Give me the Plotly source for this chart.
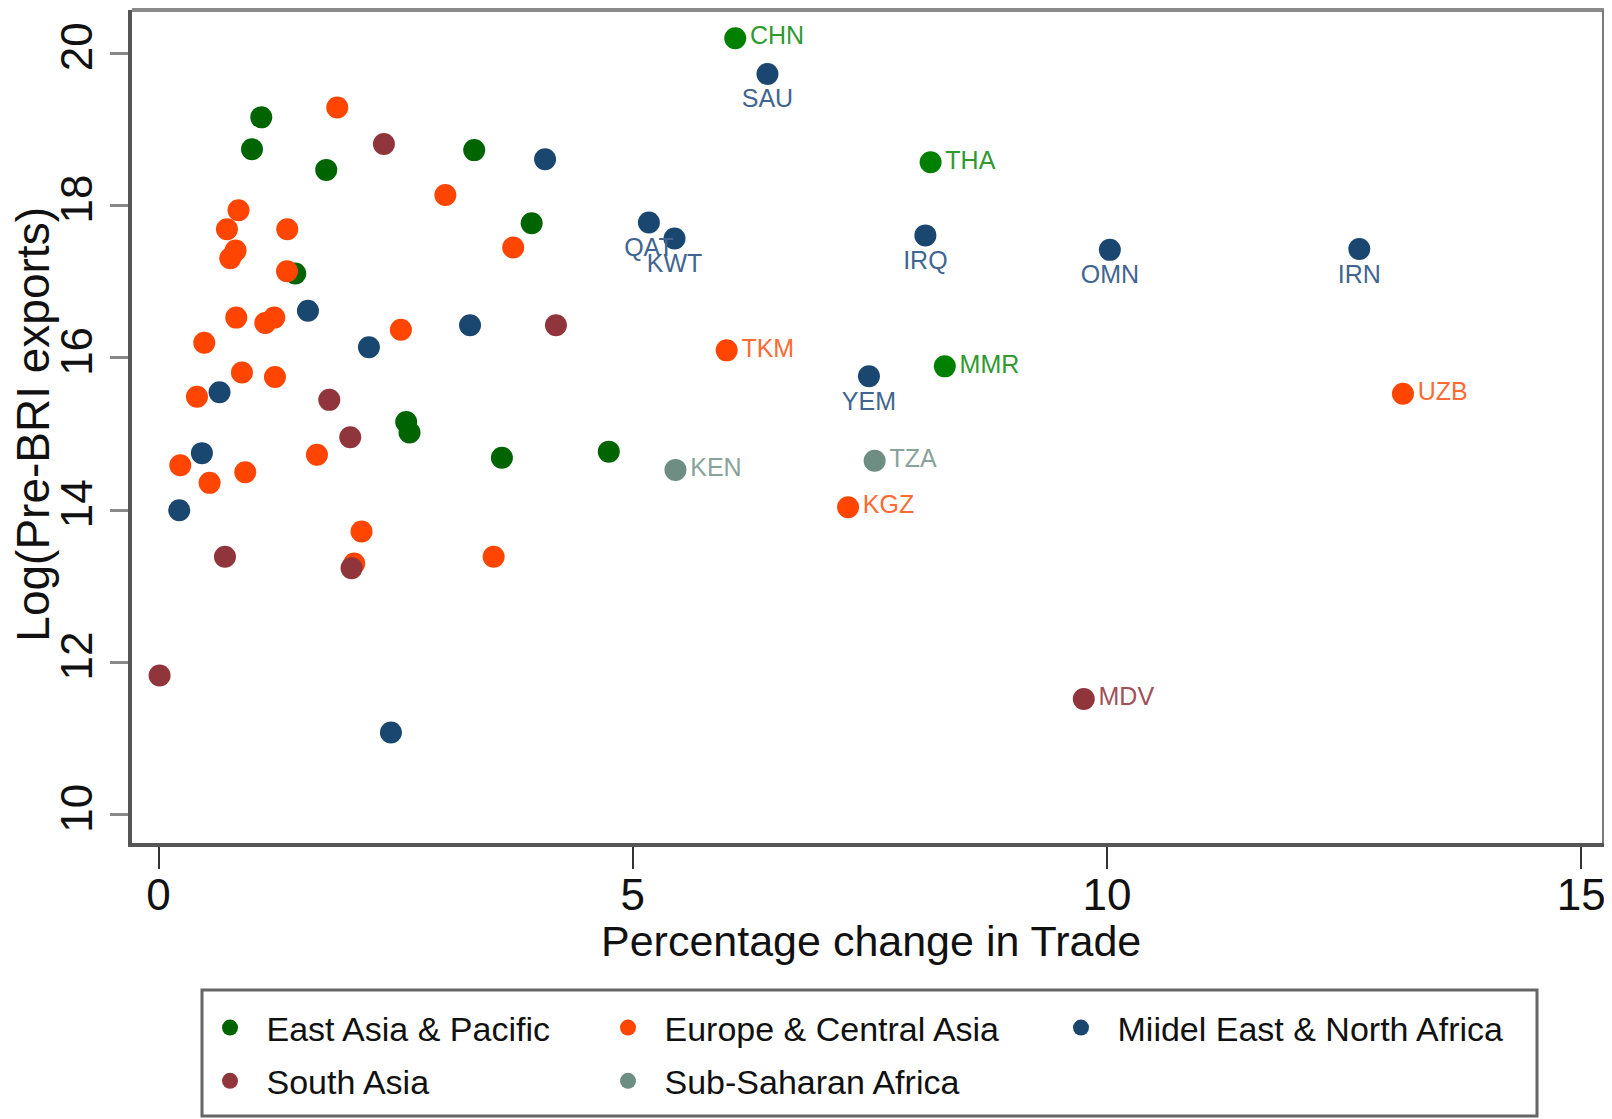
import plotly.graph_objects as go

# ---------------- data ----------------
eap_x = [1.083, 0.985, 1.768, 3.328, 3.934, 1.441, 2.611, 2.646, 3.62, 4.747, 6.08, 8.14, 8.29]
eap_y = [19.16, 18.74, 18.47, 18.73, 17.77, 17.11, 15.16, 15.02, 14.69, 14.77, 20.20, 18.57, 15.89]
eap_lab = ["", "", "", "", "", "", "", "", "", "", "CHN", "THA", "MMR"]

eca_x = [1.884, 3.024, 0.843, 0.721, 1.357, 0.812, 0.756, 3.739, 1.354, 0.482, 0.819, 1.125, 1.220,
         2.555, 0.405, 0.879, 1.227, 0.229, 0.538, 0.914, 1.67, 2.14, 2.063, 3.533, 5.99, 7.27, 13.12]
eca_y = [19.29, 18.14, 17.94, 17.69, 17.69, 17.41, 17.31, 17.45, 17.14, 16.20, 16.53, 16.46, 16.53,
         16.37, 15.49, 15.81, 15.75, 14.59, 14.36, 14.50, 14.73, 13.72, 13.30, 13.39, 16.10, 14.04, 15.53]
eca_lab = [""] * 24 + ["TKM", "KGZ", "UZB"]

mena_x = [4.075, 1.575, 3.284, 2.218, 0.643, 0.457, 0.218, 2.45, 6.42, 5.17, 5.44, 8.085, 10.03, 12.66, 7.49]
mena_y = [18.61, 16.62, 16.43, 16.14, 15.55, 14.75, 14.0, 11.08, 19.73, 17.78, 17.57, 17.61, 17.42, 17.43, 15.76]
mena_lab = [""] * 8 + ["SAU", "QAT", "KWT", "IRQ", "OMN", "IRN", "YEM"]

sa_x = [2.376, 4.19, 1.80, 2.021, 0.70, 2.035, 0.011, 9.755]
sa_y = [18.81, 16.43, 15.45, 14.96, 13.39, 13.24, 11.83, 11.52]
sa_lab = [""] * 7 + ["MDV"]

ssa_x = [5.45, 7.55]
ssa_y = [14.53, 14.65]
ssa_lab = ["KEN", "TZA"]

region_names = ["East Asia & Pacific", "Europe & Central Asia", "Miidel East & North Africa",
                "South Asia", "Sub-Saharan Africa"]

x_ticks = [0, 5, 10, 15]
y_ticks = [10, 12, 14, 16, 18, 20]

x_title = "Percentage change in Trade"
y_title = "Log(Pre-BRI exports)"

# ---------------- style ----------------
FONT = "Liberation Sans, Arial, sans-serif"
colors = ["#006400", "#ff4500", "#1a476f", "#90353b", "#6e8e84"]
label_colors = ["#2f9a2f", "#ff6a33", "#3f6590", "#a0505a", "#88a39b"]
label_pos = ["middle right", "middle right", "bottom center", "middle right", "middle right"]
legend_ids = ["legend", "legend2", "legend3", "legend", "legend2"]

groups = [(eap_x, eap_y, eap_lab), (eca_x, eca_y, eca_lab), (mena_x, mena_y, mena_lab),
          (sa_x, sa_y, sa_lab), (ssa_x, ssa_y, ssa_lab)]

fig = go.Figure()
for i, (xs, ys, labs) in enumerate(groups):
    mcol = [colors[i]] * len(xs)
    if i == 0:
        mcol = ["#008000" if l else colors[i] for l in labs]
    fig.add_trace(go.Scatter(
        x=xs, y=ys, mode="markers+text", name=region_names[i],
        text=labs, textposition=label_pos[i],
        textfont=dict(family=FONT, size=25, color=label_colors[i]),
        marker=dict(size=22, color=mcol, line=dict(width=0)),
        legend=legend_ids[i], legendgroup=region_names[i],
        cliponaxis=False,
    ))

# page has an 8px body margin: plot area targeted at page px x 132..1604, y 10..843
fig.update_layout(
    width=1612, height=1119,
    paper_bgcolor="white", plot_bgcolor="white",
    margin=dict(l=124, r=16, t=2, b=284, autoexpand=False),
    font=dict(family=FONT, color="#111111"),
    showlegend=True,
)

fig.update_xaxes(
    range=[-0.28, 15.24], tickvals=x_ticks, ticktext=[str(v) for v in x_ticks],
    showgrid=False, zeroline=False,
    showline=True, linecolor="#555555", linewidth=4,
    ticks="outside", ticklen=22, tickwidth=2, tickcolor="#333333",
    tickfont=dict(family=FONT, size=44, color="#111111"),
    ticklabelstandoff=-12,
    automargin=False,
)
fig.update_yaxes(
    range=[9.63, 20.57], tickvals=y_ticks, ticktext=[str(v) for v in y_ticks],
    showgrid=False, zeroline=False,
    showline=True, linecolor="#555555", linewidth=4,
    ticks="outside", ticklen=18, tickwidth=3, tickcolor="#888888",
    tickangle=-90,
    tickfont=dict(family=FONT, size=44, color="#111111"),
    automargin=False,
)

# lighter top / right frame lines
fig.add_shape(type="line", xref="paper", yref="paper", x0=0, x1=1, y0=1, y1=1,
              line=dict(color="#8a8a8a", width=4))
fig.add_shape(type="line", xref="paper", yref="paper", x0=1, x1=1, y0=0, y1=1,
              line=dict(color="#7a7a7a", width=4))

fig.add_annotation(text=x_title, xref="paper", yref="paper", x=0.502, y=-0.1176,
                   xanchor="center", yanchor="middle", showarrow=False,
                   font=dict(family=FONT, size=43, color="#111111"))
fig.add_annotation(text=y_title, xref="paper", yref="paper", x=-0.0675, y=0.503,
                   xanchor="center", yanchor="middle", showarrow=False, textangle=-90,
                   font=dict(family=FONT, size=46, color="#111111"))

leg_common = dict(orientation="v", xref="container", yref="container",
                  xanchor="left", yanchor="top", bgcolor="rgba(0,0,0,0)", borderwidth=0,
                  font=dict(family=FONT, size=34, color="#111111"), tracegroupgap=6,
                  itemsizing="trace", itemwidth=63)
ly = 1 - 991 / 1119
fig.update_layout(
    legend=dict(x=185.5 / 1612, y=ly, **leg_common),
    legend2=dict(x=583.5 / 1612, y=ly, **leg_common),
    legend3=dict(x=1036.5 / 1612, y=ly, **leg_common),
)

# legend frame
fig.add_shape(type="rect", xref="paper", yref="paper",
              x0=(202 - 132) / 1472, x1=(1537 - 132) / 1472,
              y0=-(1116 - 843) / 833, y1=-(990 - 843) / 833,
              line=dict(color="#666666", width=3), fillcolor="rgba(0,0,0,0)", layer="below")

fig.write_html("out.html")
